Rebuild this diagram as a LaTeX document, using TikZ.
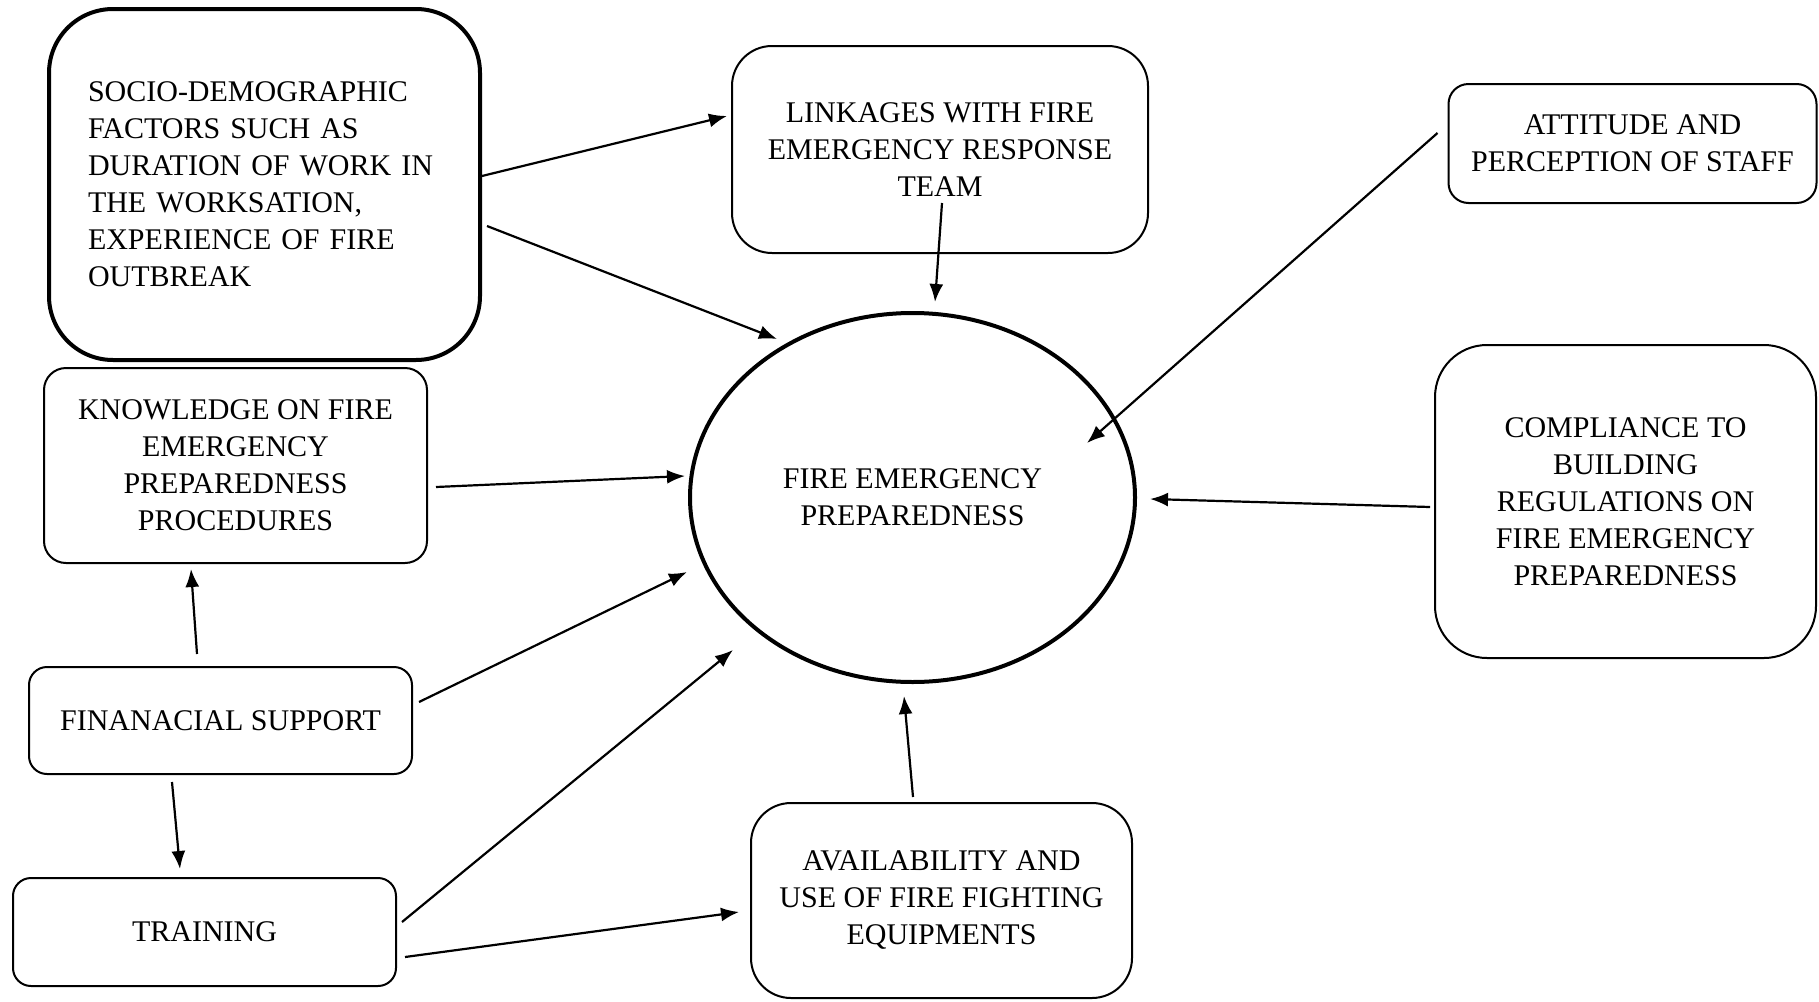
\documentclass[tikz,border=0pt]{standalone}
\usepackage{fontspec}
\setmainfont{Liberation Serif}
\usetikzlibrary{arrows.meta,shapes.geometric}
\begin{document}
\begin{tikzpicture}[x=0.5pt,y=-0.5pt,
    box/.style={draw,line width=1pt,rounded corners=#1,align=center,
      font={\fontsize{15pt}{18.5pt}\selectfont},inner sep=0pt},
    box/.default=10pt,
    link/.style={-{Latex[length=9pt,width=7pt]},line width=1.1pt}]
  \useasboundingbox (0,0) rectangle (1819,1001);
  \node[box=32pt,line width=2pt,minimum width=215.5pt,minimum height=175.5pt,
    text width=176.5pt,inner xsep=19.5pt,align=left] (socio) at (264.5,184.5)
    {SOCIO-DEMOGRAPHIC\\FACTORS SUCH AS\\DURATION OF WORK IN\\THE WORKSATION,\\EXPERIENCE OF FIRE\\OUTBREAK};
  \node[box=20pt,minimum width=208pt,minimum height=103.5pt] (linkage) at (940,149.5)
    {LINKAGES WITH FIRE\\EMERGENCY RESPONSE\\TEAM};
  \node[box=10pt,minimum width=184pt,minimum height=59.5pt] (attitude) at (1632.5,143.5)
    {ATTITUDE AND\\PERCEPTION OF STAFF};
  \node[box=11pt,minimum width=191.5pt,minimum height=97.5pt] (knowledge) at (235.5,465.5)
    {KNOWLEDGE ON FIRE\\EMERGENCY\\PREPAREDNESS\\PROCEDURES};
  \node[draw,ellipse,line width=2pt,minimum width=222.5pt,minimum height=184.5pt,
    align=center,font={\fontsize{15pt}{18.5pt}\selectfont}] (fep) at (912.5,497.5)
    {FIRE EMERGENCY\\PREPAREDNESS};
  \node[box=26pt,minimum width=190.5pt,minimum height=156.5pt] (compliance) at (1625.5,501.5)
    {COMPLIANCE TO\\BUILDING\\REGULATIONS ON\\FIRE EMERGENCY\\PREPAREDNESS};
  \node[box=9pt,minimum width=191.5pt,minimum height=53.5pt] (finance) at (220.5,720.5)
    {FINANACIAL SUPPORT};
  \node[box=9pt,minimum width=191.5pt,minimum height=54pt] (training) at (204.5,932)
    {TRAINING};
  \node[box=20pt,minimum width=190.5pt,minimum height=97.5pt,text depth=3pt] (equipment) at (941.5,900.5)
    {AVAILABILITY AND\\USE OF FIRE FIGHTING\\EQUIPMENTS};
  \begin{scope}[link]
    \draw ([yshift=4.25pt]socio.east) to ([xshift=-2pt,yshift=16.75pt]linkage.west);
    \draw ([xshift=2.5pt,yshift=-20.75pt]socio.east) to ([xshift=-67.75pt,yshift=79.25pt]fep.center);
    \draw ([xshift=1pt,yshift=-26.75pt]linkage.center) to ([xshift=11.25pt,yshift=4.5pt]fep.north);
    \draw ([xshift=-5pt,yshift=5.25pt]attitude.west) to ([xshift=87.25pt,yshift=27.25pt]fep.center);
    \draw ([xshift=4pt,yshift=-10.75pt]knowledge.east) to ([xshift=-1.5pt,yshift=10.75pt]fep.west);
    \draw ([xshift=-2pt,yshift=-2.75pt]compliance.west) to ([xshift=6.5pt,yshift=-0.75pt]fep.east);
    \draw ([xshift=-11.75pt,yshift=6pt]finance.north) to ([xshift=-22.25pt,yshift=-2.5pt]knowledge.south);
    \draw ([xshift=3pt,yshift=9.25pt]finance.east) to ([xshift=-112.75pt,yshift=-37.25pt]fep.center);
    \draw ([xshift=-24.25pt,yshift=-3.5pt]finance.south) to ([xshift=-12.25pt,yshift=4pt]training.north);
    \draw ([xshift=2.5pt,yshift=5pt]training.east) to ([xshift=-89.75pt,yshift=-76.25pt]fep.center);
    \draw ([xshift=4pt,yshift=-12.5pt]training.east) to ([xshift=-5.5pt,yshift=-5.75pt]equipment.west);
    \draw ([xshift=-14.25pt,yshift=2.5pt]equipment.north) to ([xshift=-4.25pt,yshift=-6pt]fep.south);
  \end{scope}
\end{tikzpicture}
\end{document}
